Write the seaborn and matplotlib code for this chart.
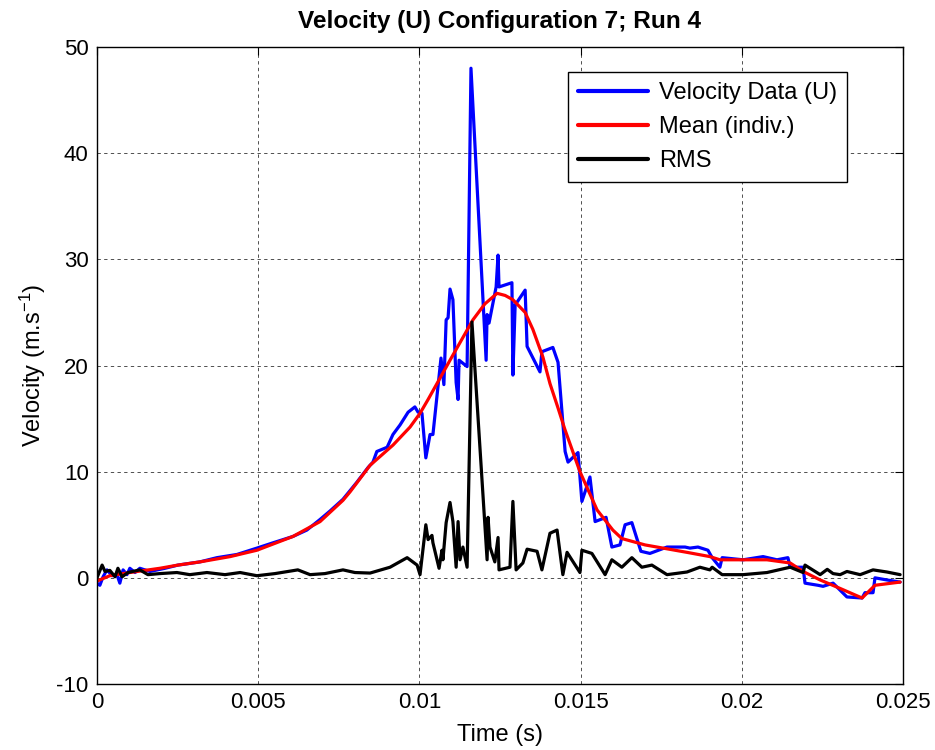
import numpy as np
import pandas as pd
import seaborn as sns
import matplotlib
matplotlib.use("Agg")
import matplotlib.pyplot as plt

# ---- data ----
vel_t = [0, 0.00009, 0.00019, 0.00031, 0.00047, 0.00062, 0.00071, 0.00081, 0.00093, 0.00102,
         0.00118, 0.00133, 0.00164, 0.00211, 0.00251, 0.00319, 0.00372, 0.00434, 0.00496, 0.00546,
         0.00608, 0.00651, 0.00692, 0.00723, 0.00763, 0.00806, 0.00841, 0.00856, 0.00868, 0.00900,
         0.00918, 0.00940, 0.00965, 0.00986, 0.00996, 0.01008, 0.01020, 0.01033, 0.01042, 0.01067,
         0.01076, 0.01083, 0.01089, 0.01095, 0.01104, 0.01114, 0.01120, 0.01123, 0.01148, 0.01160,
         0.01207, 0.01210, 0.01216, 0.01238, 0.01244, 0.01247, 0.01287, 0.01290, 0.01297, 0.01328,
         0.01334, 0.01374, 0.01380, 0.01414, 0.01430, 0.01452, 0.01461, 0.01492, 0.01504, 0.01529,
         0.01545, 0.01579, 0.01597, 0.01622, 0.01638, 0.01659, 0.01687, 0.01715, 0.01768, 0.01824,
         0.01839, 0.01864, 0.01895, 0.01908, 0.01932, 0.01939, 0.02004, 0.02066, 0.02109, 0.02143,
         0.02150, 0.02190, 0.02196, 0.02236, 0.02252, 0.02283, 0.02326, 0.02373, 0.02382, 0.02407,
         0.02413, 0.02450, 0.02491]
vel_u = [-0.5, -0.7, 0.1, 0.75, 0.2, 0.3, -0.5, 0.75, 0.3, 0.9,
         0.5, 0.9, 0.6, 0.9, 1.2, 1.5, 1.9, 2.2, 2.8, 3.3,
         3.9, 4.5, 5.5, 6.3, 7.4, 9.0, 10.4, 10.9, 11.9, 12.3,
         13.5, 14.4, 15.6, 16.1, 15.6, 15.5, 11.3, 13.5, 13.5, 20.7,
         18.2, 24.3, 24.5, 27.2, 26.2, 18.4, 16.8, 20.5, 19.9, 48.0,
         20.5, 24.8, 24.0, 27.4, 30.4, 27.4, 27.8, 19.1, 25.7, 27.1,
         21.8, 19.4, 21.3, 21.7, 20.3, 11.9, 10.9, 11.8, 7.2, 9.5,
         5.3, 5.7, 2.9, 3.1, 5.0, 5.2, 2.5, 2.3, 2.9, 2.9,
         2.8, 2.9, 2.6, 1.9, 1.0, 1.9, 1.7, 2.0, 1.7, 1.9,
         1.0, 1.0, -0.5, -0.7, -0.8, -0.5, -1.8, -1.9, -1.4, -1.4,
         0.0, -0.2, -0.4]

mean_t = [0, 0.0004, 0.00102, 0.00195, 0.00251, 0.00319, 0.00413, 0.00496, 0.00608, 0.00692,
          0.00763, 0.00785, 0.00847, 0.00918, 0.00971, 0.01002, 0.01027, 0.01095, 0.01166, 0.01203,
          0.01241, 0.01266, 0.01290, 0.01328, 0.01352, 0.01383, 0.01405, 0.01430, 0.01451, 0.01498,
          0.01551, 0.01600, 0.01628, 0.01700, 0.01830, 0.01901, 0.01932, 0.02078, 0.02150, 0.02190,
          0.02243, 0.02305, 0.02373, 0.02413, 0.02491]
mean_u = [-0.3, 0.2, 0.5, 0.9, 1.2, 1.5, 2.0, 2.6, 3.9, 5.3,
          7.3, 8.1, 10.6, 12.5, 14.2, 15.5, 16.8, 20.5, 24.3, 25.8,
          26.8, 26.6, 26.2, 25.0, 23.4, 20.8, 18.3, 16.0, 14.0, 10.0,
          6.4, 4.5, 3.7, 3.1, 2.4, 2.0, 1.7, 1.7, 1.4, 0.6,
          -0.2, -1.0, -1.9, -0.7, -0.4]

rms_t = [0, 0.00016, 0.00025, 0.00040, 0.00056, 0.00065, 0.00078, 0.00096, 0.00133, 0.00158,
         0.00195, 0.00248, 0.00288, 0.00341, 0.00397, 0.00444, 0.00496, 0.00552, 0.00623, 0.00661,
         0.00707, 0.00763, 0.00800, 0.00847, 0.00909, 0.00962, 0.00993, 0.01002, 0.01020, 0.01027,
         0.01039, 0.01042, 0.01061, 0.01070, 0.01073, 0.01083, 0.01095, 0.01104, 0.01114, 0.01120,
         0.01126, 0.01135, 0.01148, 0.01163, 0.01210, 0.01213, 0.01219, 0.01234, 0.01244, 0.01247,
         0.01281, 0.01290, 0.01300, 0.01321, 0.01334, 0.01365, 0.01380, 0.01405, 0.01427, 0.01445,
         0.01458, 0.01498, 0.01504, 0.01535, 0.01576, 0.01597, 0.01628, 0.01659, 0.01690, 0.01721,
         0.01768, 0.01830, 0.01870, 0.01901, 0.01908, 0.01939, 0.02004, 0.02078, 0.02150, 0.02190,
         0.02196, 0.02243, 0.02265, 0.02283, 0.02305, 0.02326, 0.02367, 0.02407, 0.02450, 0.02491]
rms_u = [0.0, 1.2, 0.6, 0.7, 0.1, 0.9, 0.1, 0.5, 0.75, 0.3,
         0.4, 0.5, 0.3, 0.5, 0.3, 0.5, 0.2, 0.4, 0.75, 0.3,
         0.4, 0.75, 0.5, 0.45, 1.0, 1.9, 1.2, 0.3, 5.0, 3.6,
         4.0, 3.3, 0.9, 2.6, 1.7, 5.2, 7.1, 5.3, 1.0, 5.3,
         1.7, 2.9, 1.0, 24.1, 1.7, 5.7, 2.9, 1.5, 3.8, 0.75,
         1.0, 7.2, 0.75, 1.4, 2.7, 2.5, 0.75, 4.2, 4.5, 0.3,
         2.4, 0.5, 2.6, 2.3, 0.3, 1.7, 1.0, 1.9, 1.0, 1.2,
         0.3, 0.55, 1.0, 0.75, 1.0, 0.3, 0.3, 0.5, 1.0, 0.5,
         1.2, 0.3, 0.8, 0.4, 0.3, 0.6, 0.3, 0.75, 0.55, 0.3]

x_ticks = [0, 0.005, 0.01, 0.015, 0.02, 0.025]
x_tick_labels = ["0", "0.005", "0.01", "0.015", "0.02", "0.025"]
y_ticks = [-10, 0, 10, 20, 30, 40, 50]

title = "Velocity (U) Configuration 7; Run 4"
series_names = ["Velocity Data (U)", "Mean (indiv.)", "RMS"]
colors = ["#0000ff", "#ff0000", "#000000"]

# ---- build long table ----
df = pd.concat([
    pd.DataFrame({"t": vel_t, "v": vel_u, "series": series_names[0]}),
    pd.DataFrame({"t": mean_t, "v": mean_u, "series": series_names[1]}),
    pd.DataFrame({"t": rms_t, "v": rms_u, "series": series_names[2]}),
], ignore_index=True)

sns.set_theme(style="white")
plt.rcParams["font.family"] = ["Liberation Sans", "DejaVu Sans"]
plt.rcParams["mathtext.default"] = "regular"
plt.rcParams["axes.unicode_minus"] = False
plt.rcParams["text.color"] = "black"
plt.rcParams["axes.labelcolor"] = "black"
plt.rcParams["xtick.color"] = "black"
plt.rcParams["ytick.color"] = "black"

fig = plt.figure(figsize=(9.35, 7.5), dpi=100)
ax = fig.add_axes([0.1037, 0.088, 0.8621, 0.8493])

sns.lineplot(data=df, x="t", y="v", hue="series", hue_order=series_names,
             palette=colors, estimator=None, sort=False, linewidth=2.3, ax=ax)

ax.set_xlim(0, 0.025)
ax.set_ylim(-10, 50)
ax.set_xticks(x_ticks)
ax.set_xticklabels(x_tick_labels)
ax.set_yticks(y_ticks)
ax.tick_params(direction="in", length=6, width=0.8, top=True, right=True,
               labelsize=16, colors="black", pad=6)
ax.grid(True, color="black", linestyle=(0, (4, 4)), linewidth=0.6, alpha=0.8)
for s in ax.spines.values():
    s.set_color("black")
    s.set_linewidth(1.0)

ax.set_xlabel("Time (s)", fontsize=17, labelpad=7.5, color="black")
ax.set_ylabel("Velocity (m.s$^{-1}$)", fontsize=17, labelpad=6, color="black")
ax.set_title(title, fontsize=17.6, fontweight="bold", pad=14, color="black")

leg = ax.legend(loc="upper right", bbox_to_anchor=(0.9305, 0.9608), fontsize=17,
                frameon=True, fancybox=False, edgecolor="black", framealpha=1,
                handlelength=3.0, borderpad=0.42, labelspacing=0.52, handletextpad=0.45,
                borderaxespad=0)
leg.get_frame().set_linewidth(1.0)
for h in leg.get_lines():
    h.set_linewidth(3)
for t in leg.get_texts():
    t.set_color("black")

fig.savefig("out.png", dpi=100)
